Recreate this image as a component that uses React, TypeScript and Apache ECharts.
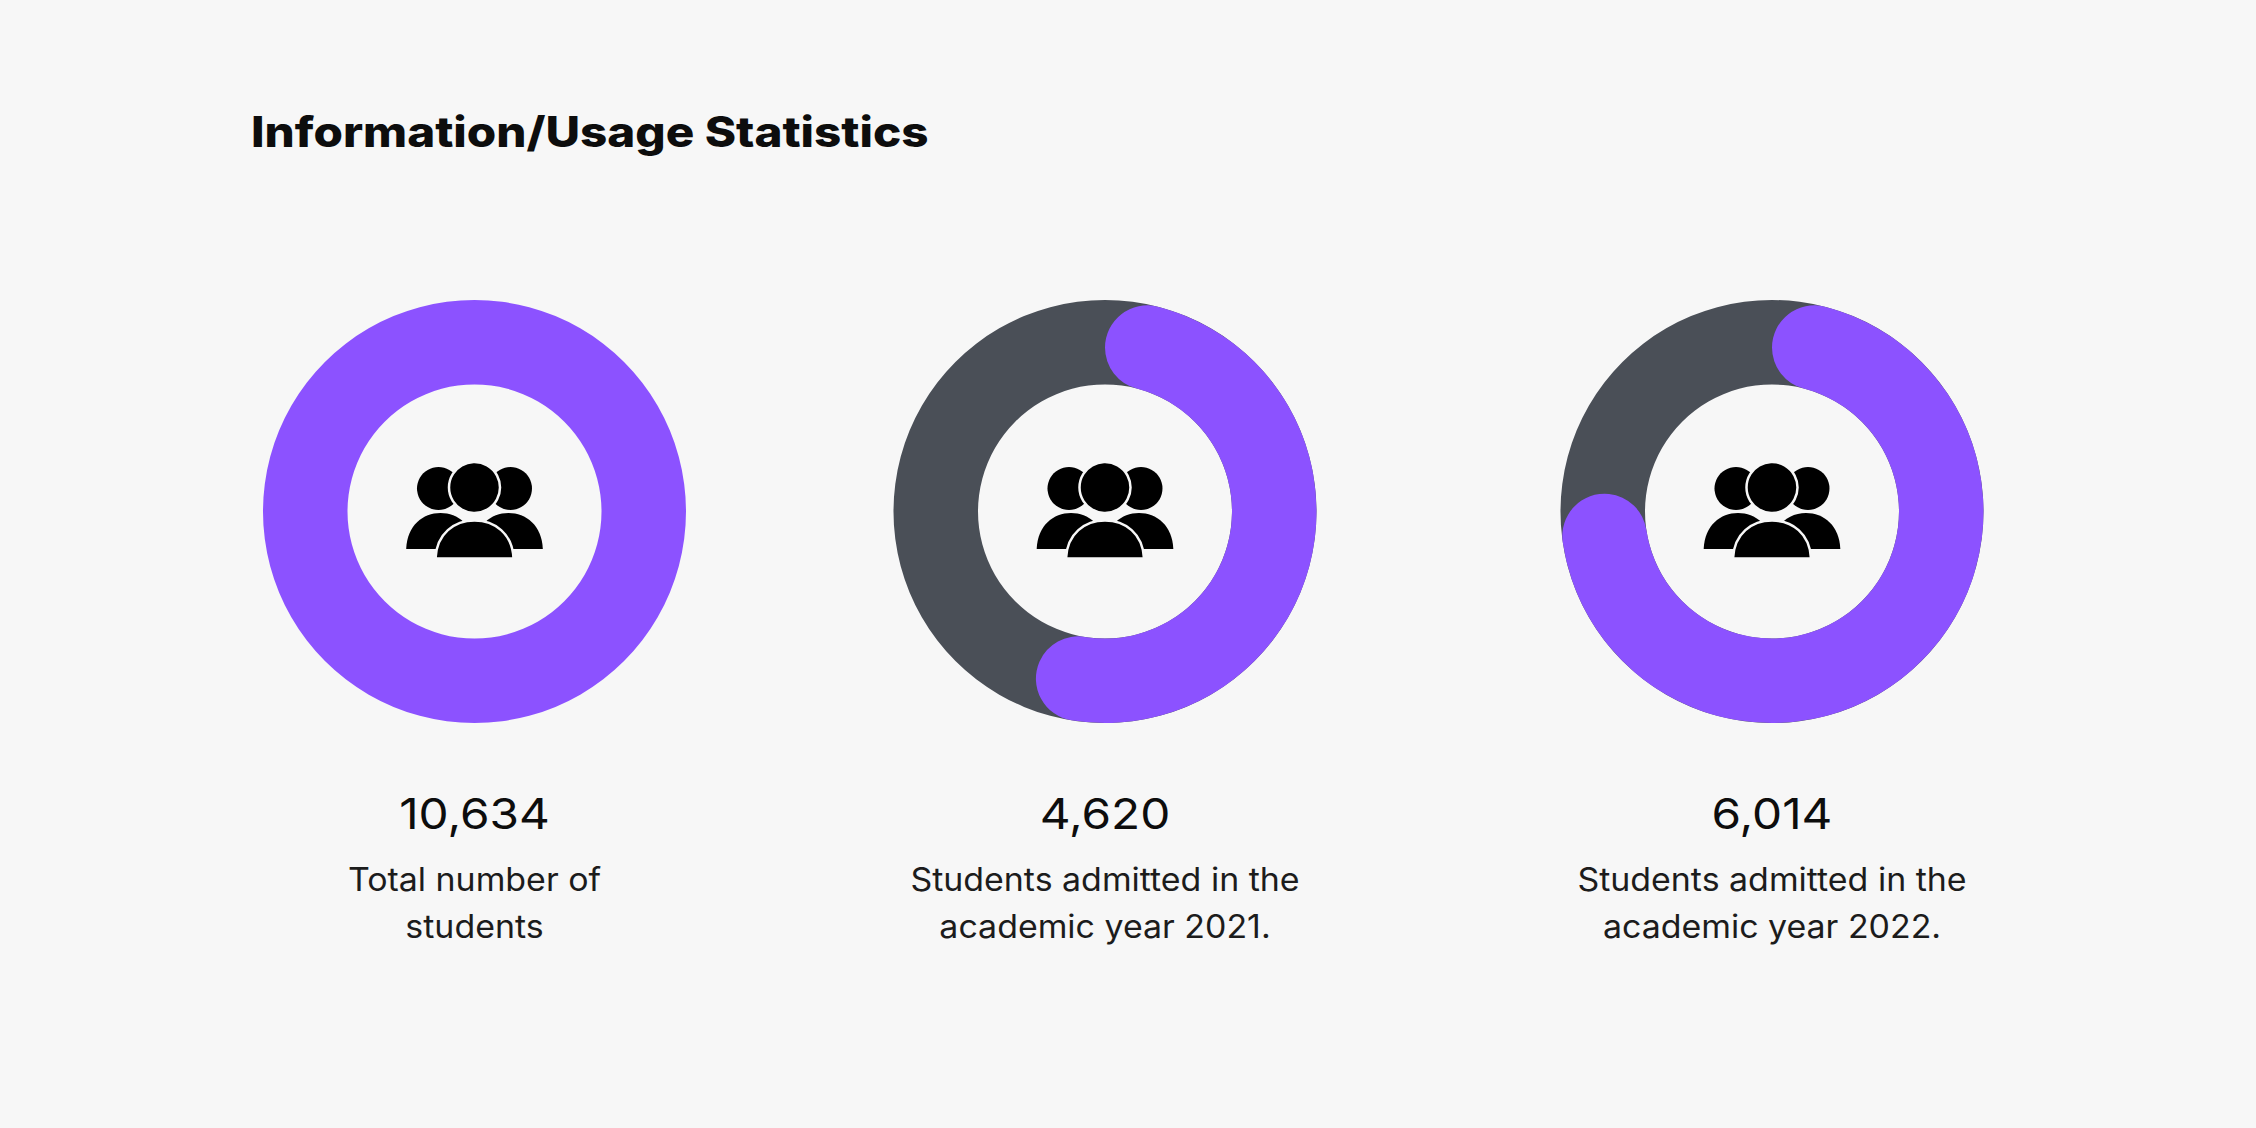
import React, { useEffect, useRef } from "react";
import * as echarts from "echarts";

const chartTitle = "Information/Usage Statistics";
const headlineValues = ["10,634", "4,620", "6,014"];
const captionLines = [
  ["Total number of", "students"],
  ["Students admitted in the", "academic year 2021."],
  ["Students admitted in the", "academic year 2022."],
];
// Share of each ring painted purple (percent).
const purpleShare = [100, 56.55, 76.7];
const greyShare = [0, 43.45, 23.3];

const PURPLE = "#8c52ff";
const GREY = "#4a4f57";
const BG = "#f7f7f7";
const INK = "#0d0d0d";
const FONT = "Inter, 'Noto Sans', sans-serif";

const centersX = [474.5, 1105, 1772];
const CENTER_Y = 511.5;
const R_OUT = 211.5;
const R_IN = 127;
const THICK = (R_OUT - R_IN) / 2;

echarts.graphic.registerShape(
  "personBody",
  echarts.graphic.extendPath("M-39 19 C-38 -6 -20 -19 0 -19 C20 -19 38 -6 39 19 Z", {}) as any
);

function peopleIcon(cx: number) {
  const back = { fill: "#000" };
  const front = { fill: "#000", stroke: BG, lineWidth: 2.5 };
  return {
    type: "group",
    x: cx,
    y: 0,
    silent: true,
    children: [
      { type: "circle", shape: { cx: -36, cy: 488.5, r: 21.5 }, style: back },
      { type: "circle", shape: { cx: 36, cy: 488.5, r: 21.5 }, style: back },
      { type: "personBody", x: -34, y: 531, scaleX: 0.88, scaleY: 0.95, style: back },
      { type: "personBody", x: 34, y: 531, scaleX: 0.88, scaleY: 0.95, style: back },
      { type: "circle", shape: { cx: 0, cy: 487.5, r: 25.5 }, style: front },
      { type: "personBody", x: 0, y: 539.5, style: front },
    ],
  };
}

export default function App() {
  const ref = useRef<HTMLDivElement>(null);
  useEffect(() => {
    document.body.style.margin = "0";
    document.body.style.background = BG;
    const chart = echarts.init(ref.current!, null, { renderer: "svg" });
    const series: any[] = [];
    centersX.forEach((cx, i) => {
      const base = {
        type: "pie",
        center: [cx, CENTER_Y],
        radius: [R_IN, R_OUT],
        silent: true,
        clockwise: true,
        label: { show: false },
        labelLine: { show: false },
        emphasis: { disabled: true },
      };
      series.push({
        ...base,
        startAngle: 90,
        data: [{ value: purpleShare[i] + greyShare[i], itemStyle: { color: greyShare[i] ? GREY : PURPLE } }],
      });
      if (greyShare[i] > 0) {
        series.push({
          ...base,
          startAngle: 90,
          itemStyle: { borderRadius: THICK },
          data: [
            { value: purpleShare[i], itemStyle: { color: PURPLE } },
            { value: greyShare[i], itemStyle: { color: "transparent" } },
          ],
        });
      }
    });
    const texts: any[] = [
      {
        type: "text",
        x: 251,
        y: 132,
        scaleX: 1.133,
        style: { text: chartTitle, fontFamily: FONT, fontWeight: 800, fontSize: 42, fill: INK, textAlign: "left", textVerticalAlign: "middle" },
      },
    ];
    centersX.forEach((cx, i) => {
      texts.push({
        type: "text",
        x: cx,
        y: 813,
        scaleX: 1.11,
        style: { text: headlineValues[i], fontFamily: FONT, fontWeight: 400, fontSize: 43, fill: INK, textAlign: "center", textVerticalAlign: "middle" },
      });
      captionLines[i].forEach((line, j) => {
        texts.push({
          type: "text",
          x: cx,
          y: 879 + j * 47.5,
          scaleX: 1.06,
          style: { text: line, fontFamily: FONT, fontWeight: 400, fontSize: 32, fill: "#1c1c1c", textAlign: "center", textVerticalAlign: "middle" },
        });
      });
    });
    chart.setOption({
      animation: false,
      backgroundColor: BG,
      series,
      graphic: [...centersX.map(peopleIcon), ...texts],
    });
    return () => chart.dispose();
  }, []);
  return <div ref={ref} style={{ width: 2256, height: 1128 }} />;
}
